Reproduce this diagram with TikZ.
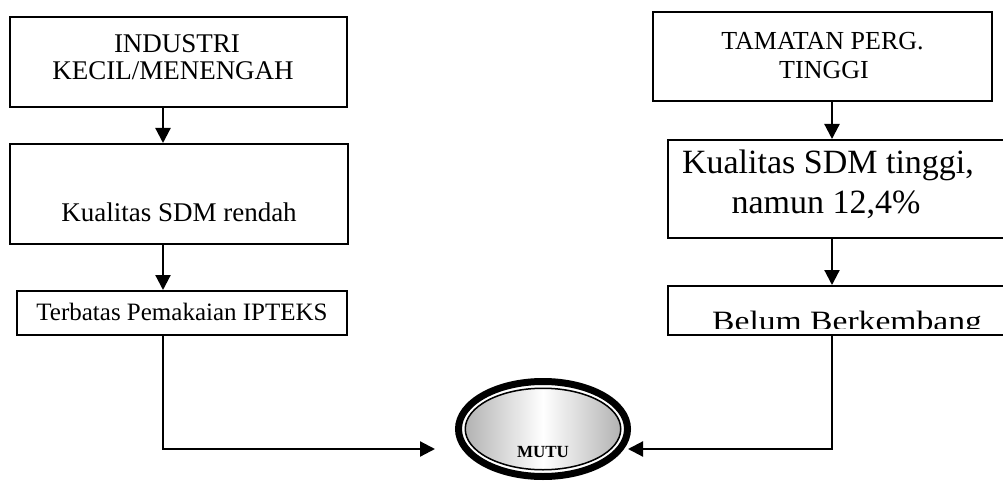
\documentclass[tikz,border=0pt]{standalone}
\usepackage{fontspec}
\usepackage{graphicx}
\setmainfont{Liberation Serif}
\usetikzlibrary{arrows.meta,shapes.geometric}
\newcommand\setfs[1]{\fontsize{#1}{#1}\selectfont}
\begin{document}
\begin{tikzpicture}[x=1pt,y=-1pt,
  box/.style={draw, line width=2pt, rectangle, inner sep=0pt},
  flow/.style={line width=2.2pt, -{Triangle[length=15pt,width=15pt]}},
  txt/.style={anchor=base, inner sep=0pt}]
\useasboundingbox (0,0) rectangle (1003,484);
\clip (0,0) rectangle (1003,484);

% left column
\node[box, minimum width=337pt, minimum height=90pt]  (ind)  at (178.5,62)  {};
\node[box, minimum width=338pt, minimum height=100pt] (sdmr) at (179,194)   {};
\node[box, minimum width=330pt, minimum height=44pt]  (tbs)  at (182,313)   {};
\node[txt, font=\setfs{27}] (indA) at (177,53) {INDUSTRI};
\node[txt, font=\setfs{27}] (indB) at (173,80) {KECIL/MENENGAH};
\node[txt, font=\setfs{27}] (sdmrT) at (179,221) {Kualitas SDM rendah};
\node[txt, font=\setfs{25}] (tbsT) at (182,320) {Terbatas Pemakaian IPTEKS};

% right column
\node[box, minimum width=339pt, minimum height=89pt] (tam)  at (822.5,56.5) {};
\node[box, minimum width=352pt, minimum height=98pt] (sdmt) at (844,189)    {};
\node[box, minimum width=362pt, minimum height=49pt] (blm)  at (849,310.5)  {};
\node[txt, font=\setfs{26}] (tamA) at (822.5,50) {TAMATAN PERG.};
\node[txt, font=\setfs{26}] (tamB) at (824,79) {TINGGI};
\node[txt, font=\setfs{34}] (sdmtA) at (828,173) {Kualitas SDM tinggi,};
\node[txt, font=\setfs{34}] (sdmtB) at (826,213) {namun 12,4\%};
\begin{scope}
  \clip (660,280) rectangle (1003,328);
  \node[txt, anchor=base west, font=\setfs{28}] (blmT) at (712,330) {\scalebox{1.2}[1]{Belum Berkembang}};
\end{scope}

% central ellipse
\fill[left color=gray!60, right color=gray!60, middle color=white]
  (543,429) ellipse [x radius=78pt, y radius=41pt];
\draw[line width=1.5pt] (543,429) ellipse [x radius=77.75pt, y radius=40.75pt];
\node[ellipse, draw, line width=7pt, minimum width=169pt, minimum height=95pt, inner sep=0pt] (mutu) at (543,429) {};
\node[txt, font=\bfseries\setfs{17}] (mutuT) at (543,457) {MUTU};

% connectors
\coordinate (lx) at (163,0);
\coordinate (rx) at (832,0);
\coordinate (inL) at (435,449);
\coordinate (inR) at (628,449);
\draw[flow] (ind.south -| lx) -- (sdmr.north -| lx);
\draw[flow] (sdmr.south -| lx) -- (tbs.north -| lx);
\draw[flow] (tam.south -| rx) -- (sdmt.north -| rx);
\draw[flow] (sdmt.south -| rx) -- (blm.north -| rx);
\draw[flow] (tbs.south -| lx) |- (inL);
\draw[flow] (blm.south -| rx) |- (inR);
\end{tikzpicture}
\end{document}
